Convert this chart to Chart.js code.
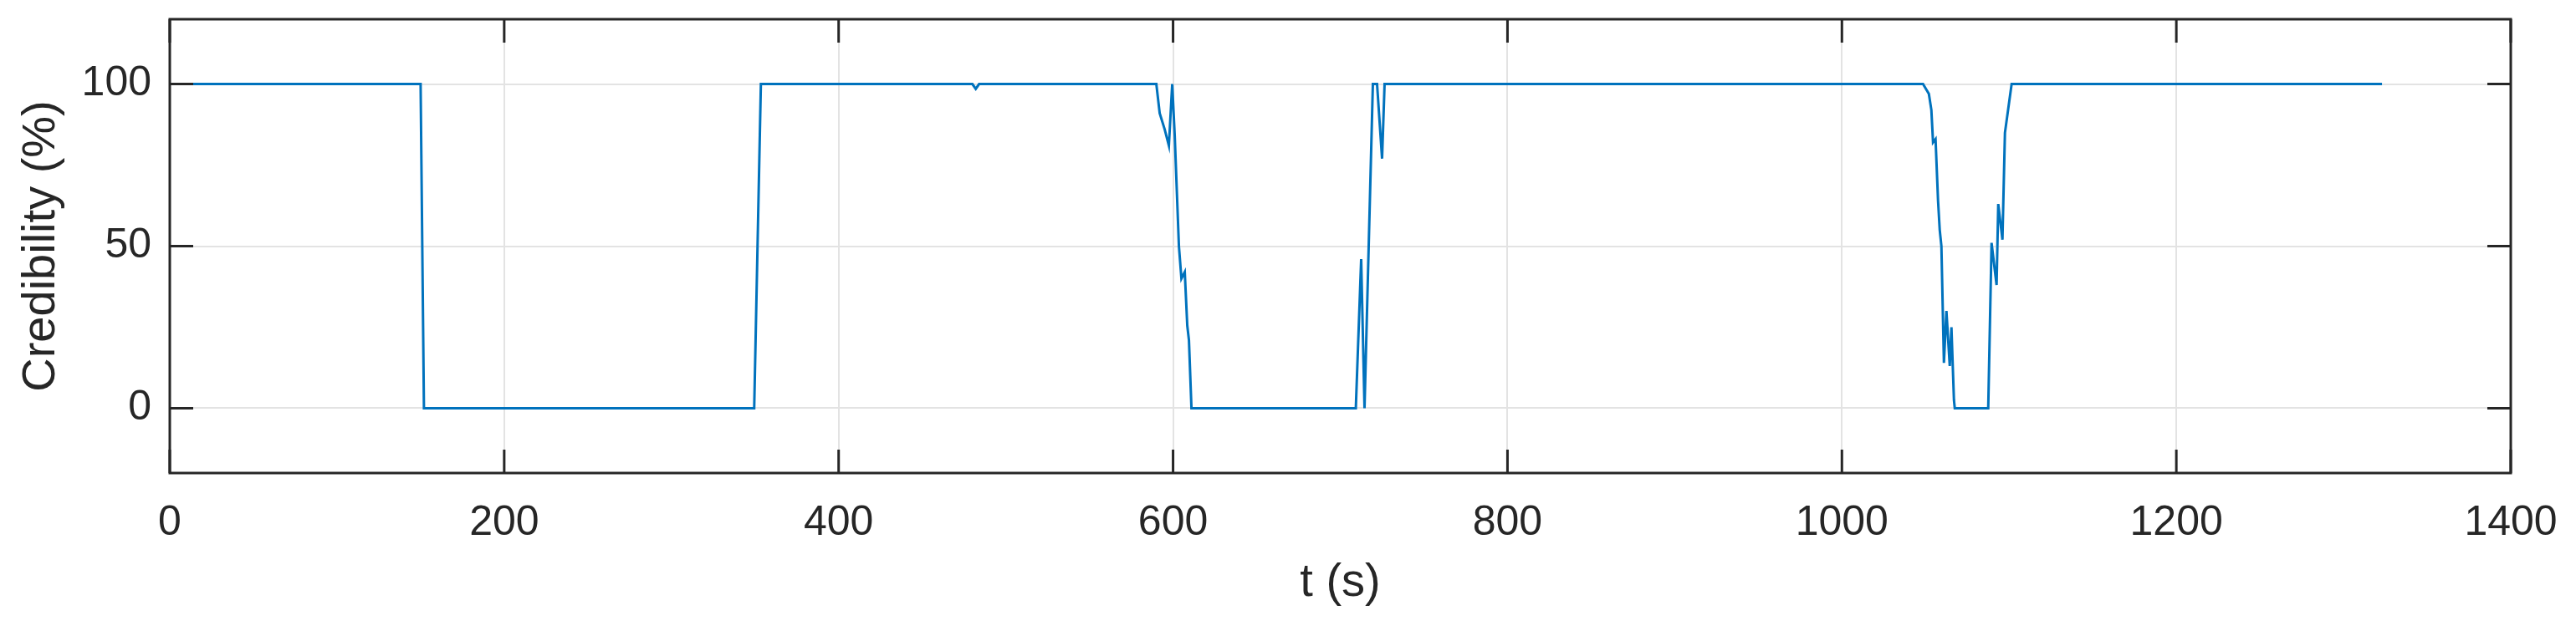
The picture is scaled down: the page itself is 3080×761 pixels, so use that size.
<!DOCTYPE html>
<html>
<head>
<meta charset="utf-8">
<script src="https://cdn.jsdelivr.net/npm/chart.js@4/dist/chart.umd.min.js"></script>
<style>
  html, body { margin: 0; padding: 0; background: #fff; }
  #wrap { width: 3080px; height: 761px; }
</style>
</head>
<body>
<div id="wrap"><canvas id="myChart" width="3080" height="761"></canvas></div>
<script>
// time stamps (s) and credibility (%)
var tSec = [0, 150, 152, 349.5, 353.5, 480, 482, 484,
  590, 592, 595, 597.5, 599.5, 601, 603.5, 605, 607, 608.5, 609.5, 611,
  709.3, 712.5, 714.5, 719.5, 722, 725, 726.5,
  1048.5, 1052, 1053.5, 1054.5, 1056, 1057.5, 1058.5, 1059.5, 1061, 1062.5, 1064.5, 1065.5, 1067, 1067.5,
  1087.5, 1089.5, 1092.5, 1093.5, 1096, 1097.5, 1101.5, 1323];
var credibility = [100, 100, 0, 0, 100, 100, 98.5, 100,
  100, 91, 86, 81, 100, 84, 50, 40, 42, 25.5, 21, 0,
  0, 46, 0, 100, 100, 77, 100,
  100, 97, 92, 82, 83, 64, 55, 50, 14, 30, 13, 25, 2.5, 0,
  0, 51, 38, 63, 52, 85, 100, 100];
var yTicks = [0, 50, 100];

var points = [];
for (var i = 0; i < tSec.length; i++) {
  points.push({x: tSec[i], y: credibility[i]});
}

// draws the black box and the short inward tick marks
var boxPlugin = {
  id: 'box',
  afterDraw: function(chart) {
    var a = chart.chartArea, c = chart.ctx;
    var xs = chart.scales.x, ys = chart.scales.y;
    c.save();
    c.strokeStyle = '#262626';
    c.lineWidth = 3;
    c.beginPath();
    xs.ticks.forEach(function(t) {
      var px = xs.getPixelForValue(t.value);
      c.moveTo(px, a.bottom); c.lineTo(px, a.bottom - 28);
      c.moveTo(px, a.top); c.lineTo(px, a.top + 28);
    });
    ys.ticks.forEach(function(t) {
      var py = ys.getPixelForValue(t.value);
      c.moveTo(a.left, py); c.lineTo(a.left + 28, py);
      c.moveTo(a.right, py); c.lineTo(a.right - 28, py);
    });
    c.stroke();
    c.strokeRect(a.left, a.top, a.right - a.left, a.bottom - a.top);
    c.restore();
  }
};

var font = "'Liberation Sans', Arial, sans-serif";

new Chart(document.getElementById('myChart'), {
  type: 'line',
  data: {
    datasets: [{
      data: points,
      borderColor: '#0072BD',
      borderWidth: 3,
      pointRadius: 0,
      fill: false,
      tension: 0
    }]
  },
  options: {
    responsive: false,
    animation: false,
    layout: { padding: { top: 23, right: 78, left: 0, bottom: 0 } },
    plugins: { legend: { display: false }, tooltip: { enabled: false } },
    scales: {
      x: {
        type: 'linear',
        min: 0, max: 1400,
        ticks: {
          stepSize: 200, color: '#262626', font: { family: font, size: 50 }, padding: 30, maxRotation: 0,
          callback: function(v) { return String(v); }
        },
        grid: { color: '#e3e3e3', lineWidth: 2, drawTicks: false },
        border: { display: false },
        title: { display: true, text: 't (s)', color: '#262626', font: { family: font, size: 56 }, padding: { top: 0, bottom: 30 } },
        afterFit: function(s) { s.height = 195; s.paddingLeft = 0; s.paddingRight = 0; }
      },
      y: {
        min: -20, max: 120,
        afterBuildTicks: function(s) { s.ticks = yTicks.map(function(v) { return {value: v}; }); },
        ticks: { color: '#262626', font: { family: font, size: 50 }, padding: 22 },
        grid: { color: '#e3e3e3', lineWidth: 2, drawTicks: false },
        border: { display: false },
        title: { display: true, text: 'Credibility (%)', color: '#262626', font: { family: font, size: 56 }, padding: { top: 16, bottom: 0 } },
        afterFit: function(s) { s.width = 203; s.paddingTop = 0; s.paddingBottom = 0; }
      }
    }
  },
  plugins: [boxPlugin]
});
</script>
</body>
</html>
